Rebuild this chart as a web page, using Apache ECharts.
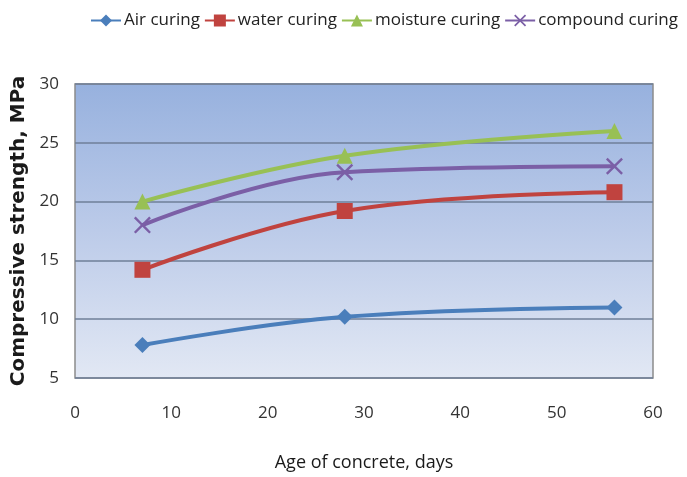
<!DOCTYPE html>
<html>
<head>
<meta charset="utf-8">
<script src="https://cdn.jsdelivr.net/npm/echarts@6/dist/echarts.min.js"></script>
<style>
  html, body { margin: 0; padding: 0; background: #ffffff; }
  #chart { width: 687px; height: 477px; }
</style>
</head>
<body>
<div id="chart"></div>
<script>
// Age of concrete (days) at which specimens were tested
const ages = [7, 28, 56];

// Compressive strength (MPa) per curing method
const airCuring = [7.8, 10.2, 11.0];
const waterCuring = [14.2, 19.2, 20.8];
const moistureCuring = [20.0, 23.9, 26.0];
const compoundCuring = [18.0, 22.5, 23.0];

const seriesNames = ['Air curing', 'water curing', 'moisture curing', 'compound curing'];

const FONT = '"Open Sans", sans-serif';
const crossSymbol = 'path://M0,1L1,0L5,4L9,0L10,1L6,5L10,9L9,10L5,6L1,10L0,9L4,5Z';

function pairs(values) {
  return ages.map((a, i) => [a, values[i]]);
}

function makeSeries(name, values, color, symbol, size) {
  return {
    name: name,
    type: 'line',
    smooth: 0.4,
    data: pairs(values),
    symbol: symbol,
    symbolSize: size,
    showSymbol: true,
    lineStyle: { color: color, width: 4 },
    itemStyle: { color: color },
    z: 3
  };
}

const chart = echarts.init(document.getElementById('chart'));
chart.setOption({
  animation: false,
  backgroundColor: '#ffffff',
  legend: {
    top: 12,
    left: 90,
    right: 0,
    padding: 0,
    itemGap: 4,
    itemWidth: 30,
    itemHeight: 15,
    textStyle: { fontFamily: FONT, fontSize: 17, color: '#222222', padding: [0, 0, 0, -2] },
    data: seriesNames
  },
  grid: {
    left: 75,
    right: 34,
    top: 84,
    bottom: 97,
    show: true,
    borderColor: '#8c8c8c',
    borderWidth: 1.5,
    backgroundColor: {
      type: 'linear', x: 0, y: 0, x2: 0, y2: 1,
      colorStops: [
        { offset: 0, color: '#97b1de' },
        { offset: 0.5, color: '#bccbe9' },
        { offset: 1, color: '#e2e8f4' }
      ]
    }
  },
  xAxis: {
    type: 'value',
    min: 0,
    max: 60,
    interval: 10,
    name: 'Age of concrete, days',
    nameLocation: 'middle',
    nameGap: 76,
    nameTextStyle: { fontFamily: FONT, fontSize: 18, color: '#1a1a1a' },
    axisLine: { show: false },
    axisTick: { show: false },
    splitLine: { show: false },
    axisLabel: { fontFamily: FONT, fontSize: 17, color: '#333333', margin: 27 }
  },
  yAxis: {
    type: 'value',
    min: 5,
    max: 30,
    interval: 5,
    name: 'Compressive strength, MPa',
    nameLocation: 'middle',
    nameGap: 46,
    nameTextStyle: { fontFamily: '"DejaVu Sans", sans-serif', fontSize: 20, fontWeight: 'bold', color: '#1a1a1a' },
    axisLine: { show: false },
    axisTick: { show: false },
    splitLine: { show: true, lineStyle: { color: '#6f7f99', width: 1.5 } },
    axisLabel: { fontFamily: FONT, fontSize: 17, color: '#333333', margin: 16 }
  },
  series: [
    makeSeries(seriesNames[0], airCuring, '#4a7ebb', 'diamond', 16),
    makeSeries(seriesNames[1], waterCuring, '#c0433f', 'rect', 16),
    makeSeries(seriesNames[2], moistureCuring, '#98c055', 'triangle', 16),
    makeSeries(seriesNames[3], compoundCuring, '#7b5fa6', crossSymbol, 17)
  ]
});
</script>
</body>
</html>
